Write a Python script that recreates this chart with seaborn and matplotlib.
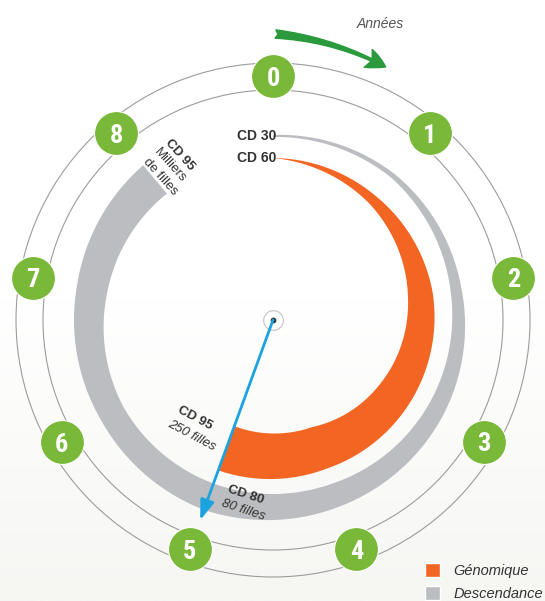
import numpy as np
import pandas as pd
import matplotlib
matplotlib.use("Agg")
import matplotlib.pyplot as plt
import seaborn as sns
from matplotlib.path import Path
from matplotlib.patches import PathPatch, Patch
from matplotlib.colors import LinearSegmentedColormap
from matplotlib import font_manager

# ---------------- data ----------------
years = [0, 1, 2, 3, 4, 5, 6, 7, 8]
year_labels = ["0", "1", "2", "3", "4", "5", "6", "7", "8"]

# Descendance band (radial extent at each year position)
desc_years = [0, 1, 2, 3, 4, 5, 6, 7, 8]
desc_inner = [183, 185, 180, 177, 174, 174, 173, 168, 165]
desc_outer = [185, 190, 191, 195, 198, 202, 199, 199, 202]

# Génomique band
geno_years = [0, 1, 2, 3, 4, 5]
geno_inner = [162, 151, 137, 125, 114, 113]
geno_outer = [162, 161, 162, 160, 158, 160]

series_names = ["Génomique", "Descendance"]
arrow_year = 5
axis_title = "Années"

# ---------------- style ----------------
W, H = 545, 601
ORANGE = "#f26522"
GRAY = "#bcbdc0"
GREEN = "#7ab83a"
DGREEN = "#2a9a3c"
BLUE = "#1ba3df"
TXT = "#333333"
STEP = 360 / len(years)

sns.set_theme(style="white")
plt.rcParams["font.family"] = ["Liberation Sans", "DejaVu Sans"]

installed = {f.name for f in font_manager.fontManager.ttflist}
badge_family = [f for f in ["Liberation Sans Narrow", "Roboto Condensed", "Roboto"]
                if f in installed] + ["DejaVu Sans"]

fig = plt.figure(figsize=(W / 100, H / 100), dpi=100)
fig.patch.set_facecolor("white")


def P(x, y):
    return (x / W, 1 - y / H)


# background: faint gradient toward the bottom
bg = fig.add_axes([0, 0, 1, 1], zorder=-10)
grad = np.linspace(0, 1, 256).reshape(-1, 1)
cmap = LinearSegmentedColormap.from_list("bg", ["#ffffff", "#ffffff", "#f6f6f3"])
bg.imshow(grad, aspect="auto", cmap=cmap, extent=[0, 1, 0, 1], origin="upper")
bg.set_axis_off()

# polar axes centred on the diagram centre
R = 300
cx, cy = 273, 320
ax = fig.add_axes([(cx - R) / W, (H - cy - R) / H, 2 * R / W, 2 * R / H],
                  projection="polar")
ax.set_theta_zero_location("N")
ax.set_theta_direction(-1)
ax.patch.set_alpha(0)
ax.spines["polar"].set_visible(False)


def draw_band(yrs, inner, outer, color):
    th = np.deg2rad(np.asarray(yrs, float) * STEP)
    inner = np.asarray(inner, float)
    outer = np.asarray(outer, float)
    verts = np.vstack([np.column_stack([th, outer]),
                       np.column_stack([th[::-1], inner[::-1]]),
                       [[th[0], outer[0]]]])
    codes = [Path.MOVETO] + [Path.LINETO] * (len(verts) - 2) + [Path.CLOSEPOLY]
    path = Path(verts, codes, _interpolation_steps=60)
    ax.add_patch(PathPatch(path, facecolor=color, edgecolor="none",
                           transform=ax.transData, zorder=3))


draw_band(desc_years, desc_inner, desc_outer, GRAY)
draw_band(geno_years, geno_inner, geno_outer, ORANGE)

# year badges
df = pd.DataFrame({"theta": np.deg2rad(np.asarray(years) * STEP),
                   "r": 244, "year": year_labels})
sns.scatterplot(data=df, x="theta", y="r", s=1000, color=GREEN,
                edgecolor="white", linewidth=0.8, ax=ax, zorder=6, legend=False)
for _, row in df.iterrows():
    ax.text(row["theta"], row["r"], row["year"], ha="center", va="center_baseline",
            color="white", fontsize=19, fontweight="bold",
            family=badge_family, zorder=7)

# centre marker
ax.scatter([0], [0], s=200, facecolor="white", edgecolor="#c9c9c9", lw=0.9, zorder=8)
ax.scatter([0], [0], s=10, color="#333333", zorder=9)

# blue arrow to year 5
ax.annotate("", xy=(np.deg2rad(arrow_year * STEP), 213), xytext=(0, 0),
            arrowprops=dict(arrowstyle="-|>,head_length=1.0,head_width=0.35",
                            color=BLUE, lw=2, shrinkA=0, shrinkB=0),
            zorder=10, annotation_clip=False)

# green "years" arrow
ax.annotate("", xy=(np.deg2rad(24), 277), xytext=(np.deg2rad(0.5), 286),
            arrowprops=dict(arrowstyle="fancy,head_length=0.7,head_width=0.7,tail_width=0.3",
                            connectionstyle="arc3,rad=-0.1", color=DGREEN,
                            mutation_scale=20, shrinkA=0, shrinkB=0, clip_on=False),
            annotation_clip=False)
fig.text(*P(380, 24), axis_title, ha="center", va="center", fontsize=10,
         style="italic", color="#555555")

# rings
ax.set_rgrids([230, 257], labels=["", ""])
ax.set_thetagrids([], [])
ax.yaxis.grid(True, color="#9c9c9c", lw=0.8)
ax.xaxis.grid(False)
ax.set(xlabel="", ylabel="")
ax.set_ylim(0, R)

# labels
fig.text(*P(276, 136), "CD 30", ha="right", va="center", fontsize=10,
         fontweight="bold", color=TXT)
fig.text(*P(276, 158), "CD 60", ha="right", va="center", fontsize=10,
         fontweight="bold", color=TXT)

fig.text(*P(167, 141), "CD 95", rotation=-48, rotation_mode="anchor",
         ha="left", va="center", fontsize=9.5, fontweight="bold", color=TXT)
fig.text(*P(156, 150), "Milliers", rotation=-48, rotation_mode="anchor",
         ha="left", va="center", fontsize=9.5, color=TXT)
fig.text(*P(145, 160), "de filles", rotation=-48, rotation_mode="anchor",
         ha="left", va="center", fontsize=9.5, color=TXT)

fig.text(*P(178, 409), "CD 95", rotation=-28, rotation_mode="anchor",
         ha="left", va="center", fontsize=9.5, fontweight="bold", color=TXT)
fig.text(*P(168, 423), "250 filles", rotation=-28, rotation_mode="anchor",
         ha="left", va="center", fontsize=9.5, style="italic", color=TXT)

fig.text(*P(228, 489), "CD 80", rotation=-18, rotation_mode="anchor",
         ha="left", va="center", fontsize=9.5, fontweight="bold", color=TXT)
fig.text(*P(222, 503), "80 filles", rotation=-18, rotation_mode="anchor",
         ha="left", va="center", fontsize=9.5, style="italic", color=TXT)

# legend
handles = [Patch(facecolor=ORANGE, label=series_names[0]),
           Patch(facecolor=GRAY, label=series_names[1])]
leg = fig.legend(handles=handles, loc="upper left", bbox_to_anchor=P(425, 563),
                 frameon=False, prop=dict(style="italic", size=10.5),
                 handlelength=1.05, handleheight=1.05, labelspacing=0.6,
                 handletextpad=0.9, borderpad=0, borderaxespad=0)
for t in leg.get_texts():
    t.set_color(TXT)

fig.savefig("out.png", dpi=100)
